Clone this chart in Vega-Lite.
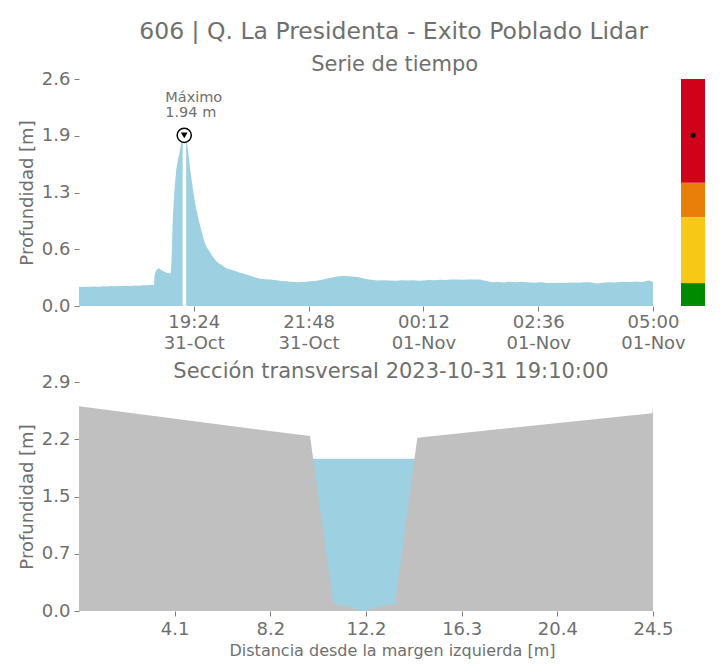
{
  "$schema": "https://vega.github.io/schema/vega-lite/v6.json",
  "background": "white",
  "padding": {"left": 18, "top": 19, "right": 10, "bottom": 4},
  "config": {
    "font": "DejaVu Sans",
    "view": {"stroke": null},
    "axis": {
      "labelColor": "#6f6f6f", "titleColor": "#6f6f6f", "labelFontSize": 18, "titleFontSize": 18,
      "titleFontWeight": "normal", "tickColor": "#7f7f7f", "domain": false, "grid": false,
      "tickSize": 5, "labelPadding": 4, "labelFlush": false
    },
    "title": {"color": "#6f6f6f", "fontWeight": "normal", "fontSize": 21}
  },
  "title": {"text": "606 | Q. La Presidenta - Exito Poblado Lidar", "fontSize": 23.5, "anchor": "middle", "offset": 11, "dx": 32},
  "spacing": 9,
  "vconcat": [
    {
      "title": {"text": "Serie de tiempo", "fontSize": 21, "anchor": "middle", "offset": -5, "dx": 33},
      "spacing": 28,
      "bounds": "flush",
      "hconcat": [
        {
          "width": 574,
          "height": 227,
          "layer": [
            {
              "data": {"values": [
                {"t": "2023-10-31T17:00:00Z", "h": 0.22}, {"t": "2023-10-31T17:05:00Z", "h": 0.215},
                {"t": "2023-10-31T17:10:00Z", "h": 0.22}, {"t": "2023-10-31T17:15:00Z", "h": 0.218},
                {"t": "2023-10-31T17:20:00Z", "h": 0.222}, {"t": "2023-10-31T17:25:00Z", "h": 0.22},
                {"t": "2023-10-31T17:30:00Z", "h": 0.225}, {"t": "2023-10-31T17:35:00Z", "h": 0.222},
                {"t": "2023-10-31T17:40:00Z", "h": 0.226}, {"t": "2023-10-31T17:45:00Z", "h": 0.224},
                {"t": "2023-10-31T17:50:00Z", "h": 0.228}, {"t": "2023-10-31T17:55:00Z", "h": 0.226},
                {"t": "2023-10-31T18:00:00Z", "h": 0.23}, {"t": "2023-10-31T18:05:00Z", "h": 0.228},
                {"t": "2023-10-31T18:10:00Z", "h": 0.232}, {"t": "2023-10-31T18:15:00Z", "h": 0.23},
                {"t": "2023-10-31T18:20:00Z", "h": 0.235}, {"t": "2023-10-31T18:25:00Z", "h": 0.236},
                {"t": "2023-10-31T18:30:00Z", "h": 0.238}, {"t": "2023-10-31T18:34:00Z", "h": 0.24},
                {"t": "2023-10-31T18:35:00Z", "h": 0.36}, {"t": "2023-10-31T18:37:00Z", "h": 0.41},
                {"t": "2023-10-31T18:40:00Z", "h": 0.43}, {"t": "2023-10-31T18:43:00Z", "h": 0.41},
                {"t": "2023-10-31T18:47:00Z", "h": 0.39}, {"t": "2023-10-31T18:51:00Z", "h": 0.375},
                {"t": "2023-10-31T18:55:00Z", "h": 0.37}, {"t": "2023-10-31T18:56:00Z", "h": 0.5},
                {"t": "2023-10-31T18:58:00Z", "h": 1.06}, {"t": "2023-10-31T19:00:00Z", "h": 1.35},
                {"t": "2023-10-31T19:02:00Z", "h": 1.55}, {"t": "2023-10-31T19:04:00Z", "h": 1.66},
                {"t": "2023-10-31T19:06:00Z", "h": 1.74}, {"t": "2023-10-31T19:08:00Z", "h": 1.84},
                {"t": "2023-10-31T19:10:00Z", "h": 1.91}, {"t": "2023-10-31T19:11:00Z", "h": 1.94},
                {"t": "2023-10-31T19:13:00Z", "h": 1.93}, {"t": "2023-10-31T19:15:00Z", "h": 1.89},
                {"t": "2023-10-31T19:17:00Z", "h": 1.76}, {"t": "2023-10-31T19:19:00Z", "h": 1.58},
                {"t": "2023-10-31T19:21:00Z", "h": 1.45}, {"t": "2023-10-31T19:23:00Z", "h": 1.32},
                {"t": "2023-10-31T19:26:00Z", "h": 1.15}, {"t": "2023-10-31T19:30:00Z", "h": 0.98},
                {"t": "2023-10-31T19:34:00Z", "h": 0.84}, {"t": "2023-10-31T19:37:00Z", "h": 0.74},
                {"t": "2023-10-31T19:40:00Z", "h": 0.67}, {"t": "2023-10-31T19:43:00Z", "h": 0.63},
                {"t": "2023-10-31T19:47:00Z", "h": 0.57}, {"t": "2023-10-31T19:53:00Z", "h": 0.5},
                {"t": "2023-10-31T20:00:00Z", "h": 0.46}, {"t": "2023-10-31T20:05:00Z", "h": 0.43},
                {"t": "2023-10-31T20:10:00Z", "h": 0.415}, {"t": "2023-10-31T20:15:00Z", "h": 0.4},
                {"t": "2023-10-31T20:20:00Z", "h": 0.385}, {"t": "2023-10-31T20:26:00Z", "h": 0.37},
                {"t": "2023-10-31T20:31:00Z", "h": 0.355}, {"t": "2023-10-31T20:36:00Z", "h": 0.34},
                {"t": "2023-10-31T20:41:00Z", "h": 0.325}, {"t": "2023-10-31T20:47:00Z", "h": 0.31},
                {"t": "2023-10-31T20:53:00Z", "h": 0.305}, {"t": "2023-10-31T21:00:00Z", "h": 0.3},
                {"t": "2023-10-31T21:05:00Z", "h": 0.295}, {"t": "2023-10-31T21:10:00Z", "h": 0.29},
                {"t": "2023-10-31T21:15:00Z", "h": 0.285}, {"t": "2023-10-31T21:20:00Z", "h": 0.28},
                {"t": "2023-10-31T21:25:00Z", "h": 0.276}, {"t": "2023-10-31T21:30:00Z", "h": 0.272},
                {"t": "2023-10-31T21:35:00Z", "h": 0.27}, {"t": "2023-10-31T21:40:00Z", "h": 0.272},
                {"t": "2023-10-31T21:45:00Z", "h": 0.275}, {"t": "2023-10-31T21:50:00Z", "h": 0.28},
                {"t": "2023-10-31T21:55:00Z", "h": 0.285}, {"t": "2023-10-31T22:00:00Z", "h": 0.29},
                {"t": "2023-10-31T22:06:00Z", "h": 0.3}, {"t": "2023-10-31T22:12:00Z", "h": 0.315},
                {"t": "2023-10-31T22:18:00Z", "h": 0.325}, {"t": "2023-10-31T22:24:00Z", "h": 0.335},
                {"t": "2023-10-31T22:31:00Z", "h": 0.34}, {"t": "2023-10-31T22:37:00Z", "h": 0.338},
                {"t": "2023-10-31T22:43:00Z", "h": 0.335}, {"t": "2023-10-31T22:49:00Z", "h": 0.33},
                {"t": "2023-10-31T22:55:00Z", "h": 0.318}, {"t": "2023-10-31T23:01:00Z", "h": 0.305},
                {"t": "2023-10-31T23:09:00Z", "h": 0.295}, {"t": "2023-10-31T23:15:00Z", "h": 0.29},
                {"t": "2023-10-31T23:22:00Z", "h": 0.292}, {"t": "2023-10-31T23:30:00Z", "h": 0.29},
                {"t": "2023-10-31T23:38:00Z", "h": 0.288}, {"t": "2023-10-31T23:45:00Z", "h": 0.292},
                {"t": "2023-10-31T23:52:00Z", "h": 0.29}, {"t": "2023-11-01T00:00:00Z", "h": 0.292},
                {"t": "2023-11-01T00:06:00Z", "h": 0.288}, {"t": "2023-11-01T00:12:00Z", "h": 0.29},
                {"t": "2023-11-01T00:19:00Z", "h": 0.295}, {"t": "2023-11-01T00:26:00Z", "h": 0.293},
                {"t": "2023-11-01T00:33:00Z", "h": 0.298}, {"t": "2023-11-01T00:40:00Z", "h": 0.296},
                {"t": "2023-11-01T00:47:00Z", "h": 0.3}, {"t": "2023-11-01T00:54:00Z", "h": 0.3},
                {"t": "2023-11-01T01:01:00Z", "h": 0.298}, {"t": "2023-11-01T01:08:00Z", "h": 0.302},
                {"t": "2023-11-01T01:15:00Z", "h": 0.3}, {"t": "2023-11-01T01:23:00Z", "h": 0.3},
                {"t": "2023-11-01T01:31:00Z", "h": 0.285}, {"t": "2023-11-01T01:39:00Z", "h": 0.27},
                {"t": "2023-11-01T01:46:00Z", "h": 0.272}, {"t": "2023-11-01T01:53:00Z", "h": 0.268},
                {"t": "2023-11-01T02:00:00Z", "h": 0.275}, {"t": "2023-11-01T02:08:00Z", "h": 0.27},
                {"t": "2023-11-01T02:17:00Z", "h": 0.275}, {"t": "2023-11-01T02:25:00Z", "h": 0.268},
                {"t": "2023-11-01T02:32:00Z", "h": 0.265}, {"t": "2023-11-01T02:40:00Z", "h": 0.27},
                {"t": "2023-11-01T02:48:00Z", "h": 0.262}, {"t": "2023-11-01T02:55:00Z", "h": 0.26},
                {"t": "2023-11-01T03:03:00Z", "h": 0.265}, {"t": "2023-11-01T03:10:00Z", "h": 0.262},
                {"t": "2023-11-01T03:18:00Z", "h": 0.268}, {"t": "2023-11-01T03:26:00Z", "h": 0.264},
                {"t": "2023-11-01T03:33:00Z", "h": 0.27}, {"t": "2023-11-01T03:41:00Z", "h": 0.27},
                {"t": "2023-11-01T03:50:00Z", "h": 0.255}, {"t": "2023-11-01T03:57:00Z", "h": 0.265},
                {"t": "2023-11-01T04:05:00Z", "h": 0.27}, {"t": "2023-11-01T04:12:00Z", "h": 0.268},
                {"t": "2023-11-01T04:22:00Z", "h": 0.275}, {"t": "2023-11-01T04:30:00Z", "h": 0.27},
                {"t": "2023-11-01T04:38:00Z", "h": 0.278}, {"t": "2023-11-01T04:46:00Z", "h": 0.272},
                {"t": "2023-11-01T04:54:00Z", "h": 0.29}, {"t": "2023-11-01T04:58:00Z", "h": 0.28},
                {"t": "2023-11-01T05:00:00Z", "h": 0.27}
              ]},
              "mark": {"type": "area", "color": "#9dd0e0"},
              "encoding": {
                "x": {
                  "field": "t", "type": "temporal",
                  "scale": {"type": "utc", "domain": [
                    {"year": 2023, "month": 10, "date": 31, "hours": 17, "minutes": 0, "utc": true},
                    {"year": 2023, "month": 11, "date": 1, "hours": 5, "minutes": 0, "utc": true}
                  ]},
                  "axis": {
                    "title": null,
                    "labelPadding": 2,
                    "values": [
                      {"year": 2023, "month": 10, "date": 31, "hours": 19, "minutes": 24, "utc": true},
                      {"year": 2023, "month": 10, "date": 31, "hours": 21, "minutes": 48, "utc": true},
                      {"year": 2023, "month": 11, "date": 1, "hours": 0, "minutes": 12, "utc": true},
                      {"year": 2023, "month": 11, "date": 1, "hours": 2, "minutes": 36, "utc": true},
                      {"year": 2023, "month": 11, "date": 1, "hours": 5, "minutes": 0, "utc": true}
                    ],
                    "labelExpr": "[utcFormat(datum.value, '%H:%M'), utcFormat(datum.value, '%d-%b')]",
                    "labelLineHeight": 21
                  }
                },
                "y": {
                  "field": "h", "type": "quantitative",
                  "scale": {"domain": [0, 2.58], "nice": false},
                  "axis": {"title": "Profundidad [m]", "values": [0, 0.645, 1.29, 1.935, 2.58], "format": ".1f", "titlePadding": 5}
                }
              }
            },
            {
              "data": {"values": [{"t": "2023-10-31T19:12:15Z"}]},
              "mark": {"type": "rule", "color": "white", "strokeWidth": 3.5},
              "encoding": {"x": {"field": "t", "type": "temporal"}}
            },
            {
              "data": {"values": [{"t": "2023-10-31T19:12:00Z", "h": 1.94, "lab": "Máximo\n1.94 m"}]},
              "layer": [
                {"mark": {"type": "point", "shape": "circle", "filled": true, "fill": "white", "stroke": "black", "strokeWidth": 1.5, "size": 200, "opacity": 1},
                 "encoding": {"x": {"field": "t", "type": "temporal"}, "y": {"field": "h", "type": "quantitative"}}},
                {"mark": {"type": "point", "shape": "triangle-down", "filled": true, "color": "black", "size": 45, "opacity": 1},
                 "encoding": {"x": {"field": "t", "type": "temporal"}, "y": {"field": "h", "type": "quantitative"}}},
                {"mark": {"type": "text", "lineBreak": "\n", "align": "left", "baseline": "bottom", "dx": -19, "dy": -30, "fontSize": 14.5, "lineHeight": 15, "color": "#6f6f6f"},
                 "encoding": {"x": {"field": "t", "type": "temporal"}, "y": {"field": "h", "type": "quantitative"}, "text": {"field": "lab"}}}
              ]
            }
          ]
        },
        {
          "width": 24,
          "height": 227,
          "layer": [
            {
              "data": {"values": [
                {"c": "nivel", "lo": 0, "hi": 0.26, "col": "#008a00"},
                {"c": "nivel", "lo": 0.26, "hi": 1.01, "col": "#f7c816"},
                {"c": "nivel", "lo": 1.01, "hi": 1.4, "col": "#e97e08"},
                {"c": "nivel", "lo": 1.4, "hi": 2.58, "col": "#d0011a"}
              ]},
              "mark": {"type": "bar"},
              "encoding": {
                "x": {"field": "c", "type": "nominal", "axis": null, "scale": {"paddingInner": 0, "paddingOuter": 0}},
                "y": {"field": "lo", "type": "quantitative", "scale": {"domain": [0, 2.58], "nice": false}, "axis": null},
                "y2": {"field": "hi"},
                "color": {"field": "col", "type": "nominal", "scale": null, "legend": null}
              }
            },
            {
              "data": {"values": [{"c": "nivel", "h": 1.94}]},
              "mark": {"type": "point", "filled": true, "color": "black", "size": 25, "opacity": 1},
              "encoding": {
                "x": {"field": "c", "type": "nominal", "axis": null},
                "y": {"field": "h", "type": "quantitative", "axis": null}
              }
            }
          ]
        }
      ]
    },
    {
      "width": 574,
      "height": 229,
      "title": {"text": "Sección transversal 2023-10-31 19:10:00", "fontSize": 21, "anchor": "middle", "offset": -9, "dx": 25},
      "layer": [
        {
          "data": {"values": [{"d": 9.9, "z": 1.94}, {"d": 14.4, "z": 1.94}]},
          "mark": {"type": "area", "color": "#9dd0e0"},
          "encoding": {
            "x": {"field": "d", "type": "quantitative"},
            "y": {"field": "z", "type": "quantitative"}
          }
        },
        {
          "data": {"values": [
            {"d": 0, "z": 2.61}, {"d": 9.86, "z": 2.23}, {"d": 10.85, "z": 0.11},
            {"d": 11.07, "z": 0.07}, {"d": 11.5, "z": 0.064}, {"d": 11.85, "z": 0.02},
            {"d": 12.13, "z": 0.0}, {"d": 12.42, "z": 0.02}, {"d": 12.85, "z": 0.06},
            {"d": 13.13, "z": 0.077}, {"d": 13.49, "z": 0.085}, {"d": 14.44, "z": 2.21},
            {"d": 24.47, "z": 2.52}, {"d": 24.5, "z": 2.62}
          ]},
          "mark": {"type": "area", "color": "#c0c0c0"},
          "encoding": {
            "x": {
              "field": "d", "type": "quantitative",
              "scale": {"domain": [0, 24.5], "nice": false, "zero": false},
              "axis": {"title": "Distancia desde la margen izquierda [m]", "titleFontSize": 16, "titlePadding": 4, "titleX": 313,
                       "values": [4.0833, 8.1667, 12.2499, 16.3333, 20.4167, 24.5], "format": ".1f"}
            },
            "y": {
              "field": "z", "type": "quantitative",
              "scale": {"domain": [0, 2.92], "nice": false},
              "axis": {"title": "Profundidad [m]", "values": [0, 0.73, 1.46, 2.19, 2.92], "format": ".1f", "titlePadding": 5}
            }
          }
        }
      ]
    }
  ]
}
